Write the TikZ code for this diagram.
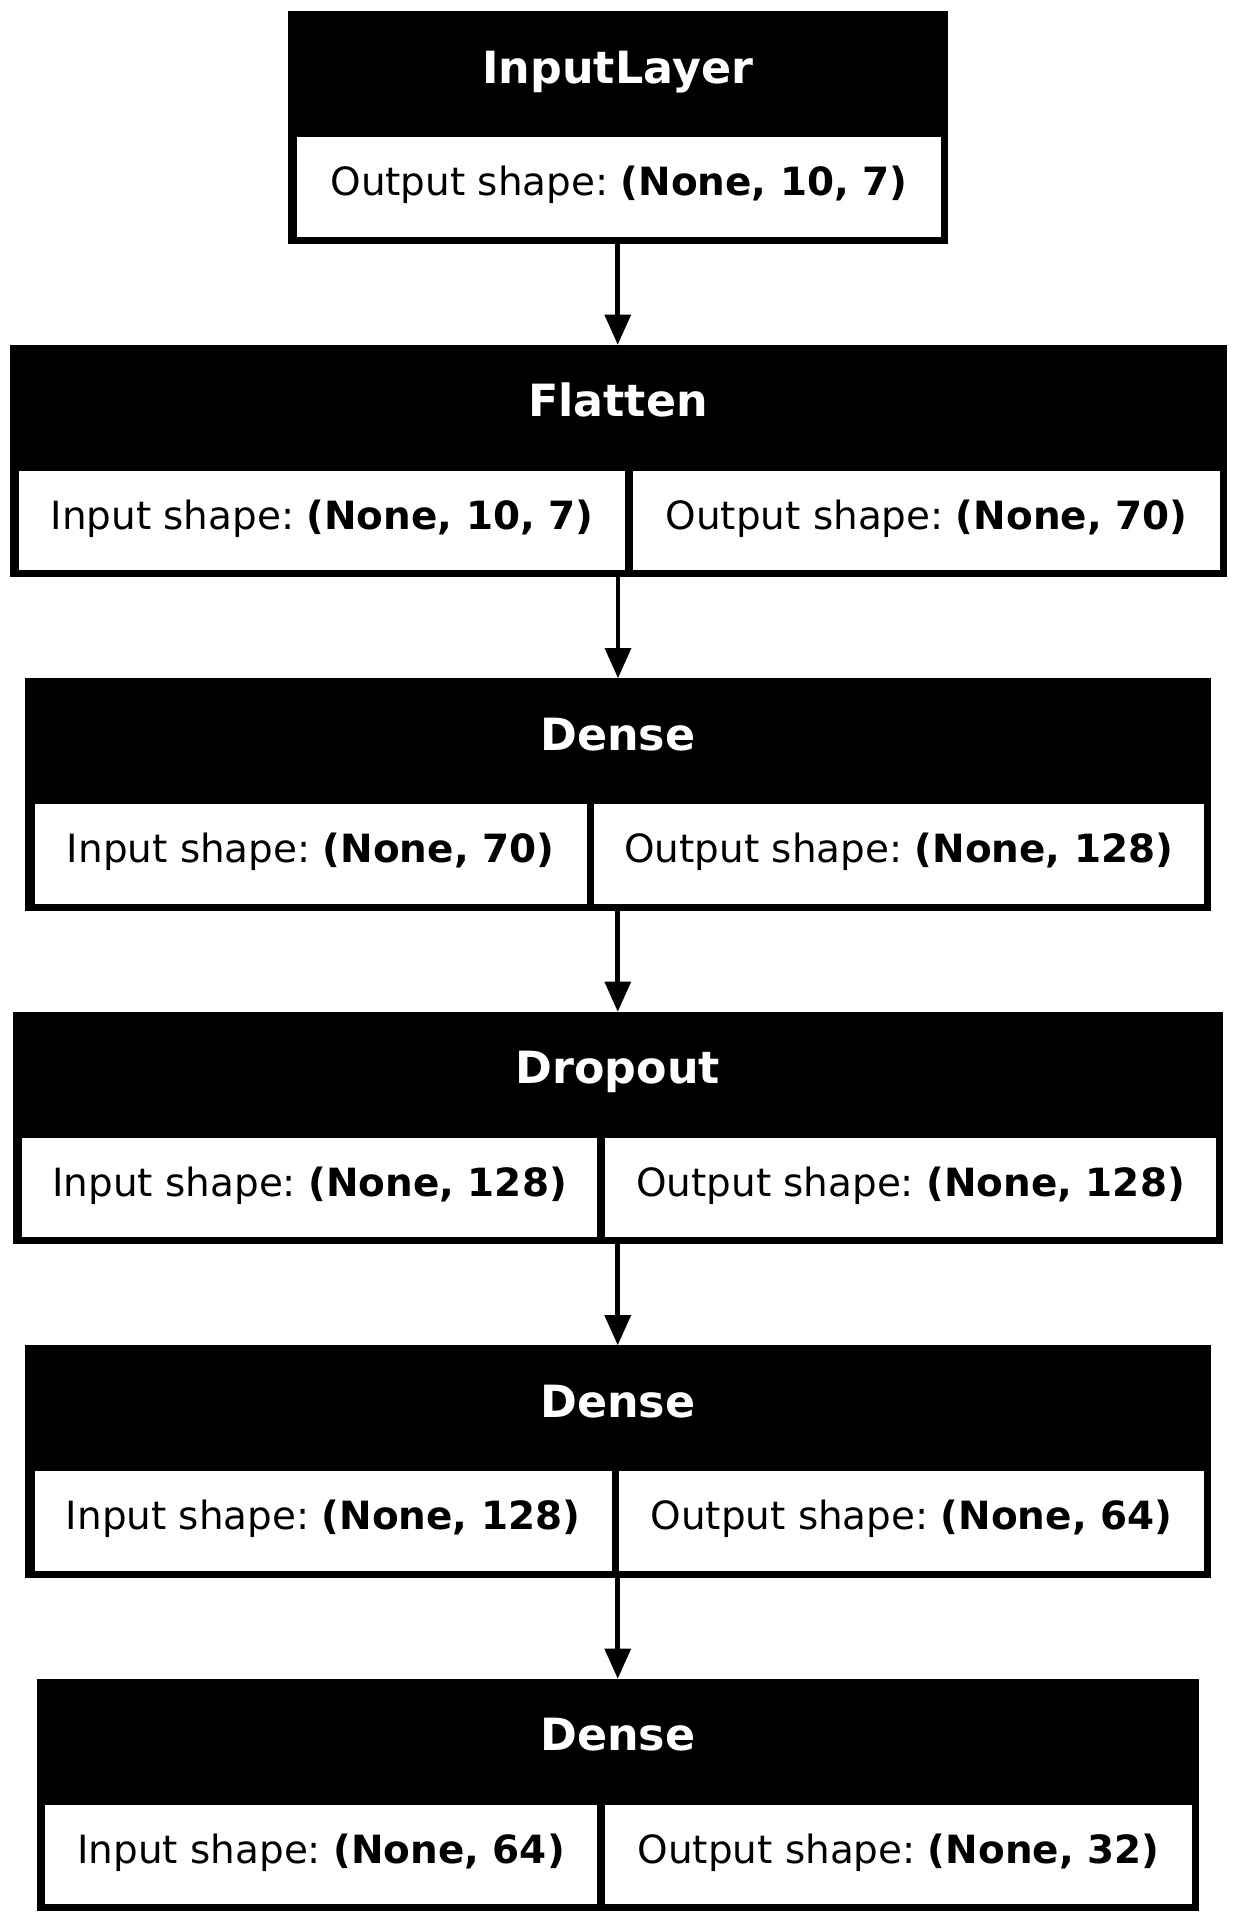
\documentclass[tikz,border=0pt]{standalone}
\usepackage{fontspec}
\setmainfont{DejaVu Sans}
\usetikzlibrary{arrows.meta}
\begin{document}
\frenchspacing
\begin{tikzpicture}[x=1pt,y=-1pt,
  layerbox/.style={fill=black,draw=none,inner sep=0pt,outer sep=0pt,anchor=north west,minimum height=232.5pt},
  cellbox/.style={fill=white,draw=none,inner sep=0pt,outer sep=0pt,anchor=north west,minimum height=99.5pt,text height=28pt,text depth=9.6pt,font=\fontsize{38.9}{46}\selectfont\frenchspacing},
  headtxt/.style={text=white,inner sep=0pt,text height=30pt,text depth=12pt,font=\fontsize{44.4}{52}\selectfont\bfseries},
  conn/.style={line width=4.8pt,-{Triangle[length=30pt,width=27pt,line width=0pt]}}]
\fill[white] (0,0) rectangle (1236,1922);
\useasboundingbox (0,0) rectangle (1236,1922);

% InputLayer
\node[layerbox,minimum width=660.5pt] (inp) at (287.5,11) {};
\node[headtxt] (inpT) at (617.75,74) {InputLayer};
\node[cellbox,minimum width=644pt] (inpO) at (297,137) {Output shape: \textbf{(None, 10, 7)}};

% Flatten
\node[layerbox,minimum width=1217pt] (flat) at (9.5,344.5) {};
\node[headtxt] (flatT) at (618,407.5) {Flatten};
\node[cellbox,minimum width=606pt] (flatI) at (19,470.5) {Input shape: \textbf{(None, 10, 7)}};
\node[cellbox,minimum width=587pt] (flatO) at (633,470.5) {Output shape: \textbf{(None, 70)}};

% Dense 1
\node[layerbox,minimum width=1185.5pt] (dA) at (25,678) {};
\node[headtxt] (dAT) at (617.75,741) {Dense};
\node[cellbox,minimum width=552.2pt] (dAI) at (34.5,804) {Input shape: \textbf{(None, 70)}};
\node[cellbox,minimum width=609.5pt] (dAO) at (594,804) {Output shape: \textbf{(None, 128)}};

% Dropout
\node[layerbox,minimum width=1210.5pt] (drop) at (12.5,1011.5) {};
\node[headtxt] (dropT) at (617.75,1074.5) {Dropout};
\node[cellbox,minimum width=575.3pt] (dropI) at (22,1137.5) {Input shape: \textbf{(None, 128)}};
\node[cellbox,minimum width=611pt] (dropO) at (605,1137.5) {Output shape: \textbf{(None, 128)}};

% Dense 2
\node[layerbox,minimum width=1185.5pt] (dB) at (25,1345) {};
\node[headtxt] (dBT) at (617.75,1408) {Dense};
\node[cellbox,minimum width=577.2pt] (dBI) at (34.5,1471) {Input shape: \textbf{(None, 128)}};
\node[cellbox,minimum width=584.2pt] (dBO) at (619.3,1471) {Output shape: \textbf{(None, 64)}};

% Dense 3
\node[layerbox,minimum width=1162.5pt] (dC) at (36.5,1678.5) {};
\node[headtxt] (dCT) at (617.75,1741.5) {Dense};
\node[cellbox,minimum width=552.3pt] (dCI) at (45,1804.5) {Input shape: \textbf{(None, 64)}};
\node[cellbox,minimum width=587pt] (dCO) at (605,1804.5) {Output shape: \textbf{(None, 32)}};

% connectors
\draw[conn] (inp.south) -- (inp.south |- flat.north);
\draw[conn] (flat.south) -- (flat.south |- dA.north);
\draw[conn] (dA.south) -- (dA.south |- drop.north);
\draw[conn] (drop.south) -- (drop.south |- dB.north);
\draw[conn] (dB.south) -- (dB.south |- dC.north);
\end{tikzpicture}
\end{document}
